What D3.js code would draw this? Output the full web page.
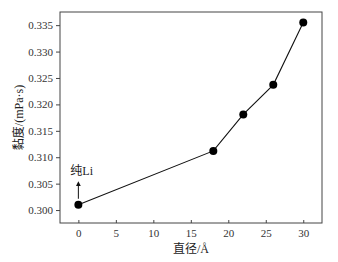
<!DOCTYPE html>
<html><head><meta charset="utf-8">
<script src="https://cdn.jsdelivr.net/npm/d3@7"></script>
<style>body{margin:0;background:#fff}
.ser{font-family:"Liberation Serif","Times New Roman","DejaVu Serif",serif}
.cj{font-family:"Liberation Serif","Noto Sans CJK SC",serif}
</style>
</head><body>
<svg id="c" width="338" height="262"></svg>
<script>
const diameters = [0, 18, 22, 26, 30];
const viscosity = [0.3010, 0.3112, 0.3181, 0.3237, 0.3355];
const xTicks = [0, 5, 10, 15, 20, 25, 30];
const yTicks = [0.300, 0.305, 0.310, 0.315, 0.320, 0.325, 0.330, 0.335];
const xTitle = "直径/Å";
const yTitle = "黏度/(mPa·s)";
const annot = "纯Li";

const svg = d3.select("#c");
const m = {l:60, t:12, r:322, b:223};
const x = d3.scaleLinear().domain([-2.45, 32.5]).range([m.l, m.r]);
const y = d3.scaleLinear().domain([0.29755, 0.33749]).range([m.b, m.t]);
const axc = "#444";

svg.append("rect").attr("x", m.l).attr("y", m.t).attr("width", m.r-m.l).attr("height", m.b-m.t)
  .attr("fill","none").attr("stroke", axc).attr("stroke-width",1);

const gx = svg.append("g").attr("transform",`translate(0,${m.b})`)
  .call(d3.axisBottom(x).tickValues(xTicks).tickSizeInner(-3).tickSizeOuter(0).tickPadding(6).tickFormat(d3.format("d")));
gx.attr("font-family", null).attr("font-size", null);
gx.select(".domain").remove();
gx.selectAll("line").attr("stroke", axc);
gx.selectAll("text").attr("class","ser").style("font-size","11px").attr("fill","#333");

const gy = svg.append("g").attr("transform",`translate(${m.l},0)`)
  .call(d3.axisLeft(y).tickValues(yTicks).tickSizeInner(4).tickSizeOuter(0).tickPadding(3).tickFormat(d3.format(".3f")));
gy.attr("font-family", null).attr("font-size", null);
gy.select(".domain").remove();
gy.selectAll("line").attr("stroke", axc);
gy.selectAll("text").attr("class","ser").style("font-size","11px").attr("fill","#333");

const pts = diameters.map((d,i)=>[d, viscosity[i]]);
svg.append("path").datum(pts)
  .attr("d", d3.line().x(d=>x(d[0])).y(d=>y(d[1])))
  .attr("fill","none").attr("stroke","#111").attr("stroke-width",1.1);
svg.selectAll("circle.p").data(pts).join("circle")
  .attr("cx", d=>x(d[0])).attr("cy", d=>y(d[1])).attr("r", 4).attr("fill","#000");

// annotation arrow
const ax0 = x(diameters[0]), ay0 = y(viscosity[0]);
svg.append("defs").append("marker").attr("id","ah").attr("viewBox","0 0 6 6")
  .attr("refX",3).attr("refY",3).attr("markerWidth",5).attr("markerHeight",5).attr("orient","auto")
  .append("path").attr("d","M0,0 L6,3 L0,6 Z").attr("fill","#111");
svg.append("line").attr("x1", ax0).attr("x2", ax0).attr("y1", ay0-6).attr("y2", ay0-21)
  .attr("stroke","#111").attr("stroke-width",1).attr("marker-end","url(#ah)");
svg.append("text").attr("class","cj").attr("x", ax0-8).attr("y", ay0-30).style("font-size","12px")
  .attr("fill","#222").text(annot);

svg.append("text").attr("class","cj").attr("x", (m.l+m.r)/2).attr("y", 253).attr("text-anchor","middle")
  .style("font-size","12px").attr("fill","#222").text(xTitle);
svg.append("text").attr("class","cj").attr("transform",`translate(23,${(m.t+m.b)/2}) rotate(-90)`).attr("text-anchor","middle")
  .style("font-size","12px").attr("fill","#222").text(yTitle);
</script>
</body></html>
